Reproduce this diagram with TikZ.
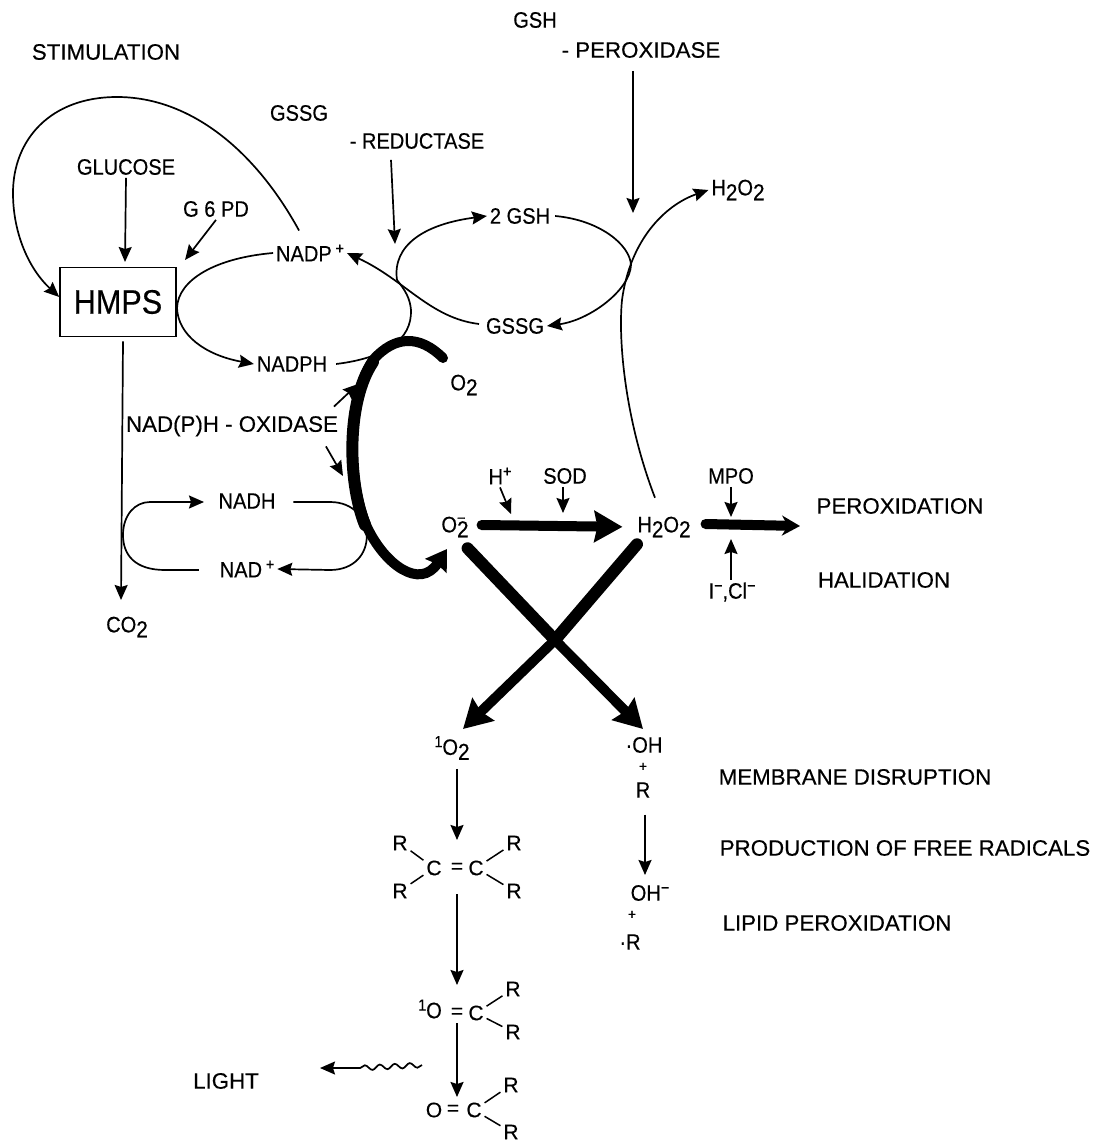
\documentclass[tikz,border=0pt]{standalone}
\usepackage{fontspec}
\setmainfont{Liberation Sans}[FakeBold=0.4]
\newfontfamily\narrowfont{Liberation Sans}[FakeStretch=0.9,FakeBold=0.4]
\usepackage{xcolor}
\usepackage{tikz}
\usetikzlibrary{arrows.meta,decorations.pathmorphing}
\newcommand{\lo}[1]{\raisebox{-.42ex}{\fontsize{23}{23}\selectfont #1}}
\newcommand{\hi}[1]{\raisebox{.65ex}{\fontsize{16}{16}\selectfont #1}}
\newcommand{\hilo}[2]{\rlap{\raisebox{.75ex}{\fontsize{16}{16}\selectfont #1}}\lo{#2}}

\begin{document}
\begin{tikzpicture}[
  x=1pt,y=-1pt,
  lbl/.style={inner sep=1pt,outer sep=2pt,font=\narrowfont\fontsize{22.3}{24}\selectfont},
  wbl/.style={inner sep=1pt,outer sep=2pt,font=\fontsize{22.3}{24}\selectfont},
  sbl/.style={inner sep=1pt,outer sep=2pt,font=\fontsize{21}{23}\selectfont},
  pls/.style={inner sep=0pt,font=\fontsize{14}{14}\selectfont},
  hmpsbox/.style={rectangle,draw,line width=1.6pt,minimum width=116pt,minimum height=69pt,inner sep=0pt,font=\narrowfont\fontsize{34}{36}\selectfont},
  arrow/.style={-{Stealth[length=15pt,width=13pt,inset=2pt]},line width=1.7pt},
  curve/.style={line width=1.7pt},
  bond/.style={line width=1.5pt},
  fat/.style={line width=12pt,line cap=round},
  fatarrow/.style={-{Stealth[length=28pt,width=31pt,inset=3pt]},line width=10pt,line cap=round}
]
  \useasboundingbox (0,0) rectangle (1102,1142);

  % Enzymes and inputs at the top
  \node[wbl] (stim) at (106,52) {STIMULATION};
  \node[lbl] (gsh) at (535,20) {GSH};
  \node[wbl] (perox) at (641,50) {- PEROXIDASE};
  \node[lbl] (gssgtop) at (299,113) {GSSG};
  \node[lbl] (reduct) at (417,141) {- REDUCTASE};
  \node[lbl] (glucose) at (126,167) {GLUCOSE};
  \node[lbl] (gpd) at (216,209) {G 6 PD};
  \node[lbl] (htop) at (738,190) {H\lo{2}O\lo{2}};

  % Upper cycles
  \node[hmpsbox] (hmps) at (118,302) {HMPS};
  \node[lbl] (nadp) at (310,253) {NADP\,\hi{+}};
  \node[lbl] (nadph) at (292,364) {NADPH};
  \node[lbl] (tgsh) at (520,216) {2 GSH};
  \node[lbl] (gssg) at (515,326) {GSSG};
  \node[lbl] (otwo) at (464,385) {O\lo{2}};

  % Lower left
  \node[wbl] (oxid) at (232,426) {NAD(P)H - OXIDASE};
  \node[lbl] (nadh) at (247,501) {NADH};
  \node[lbl] (nad) at (247,569) {NAD\,\hi{+}};
  \node[lbl] (co) at (127,627) {CO\lo{2}};

  % Middle row
  \node[lbl] (sup) at (455,527) {O\hilo{−}{2}};
  \node[lbl] (hplus) at (500,476) {H\hi{+}};
  \node[lbl] (sod) at (565,476) {SOD};
  \node[lbl] (hperox) at (664,527) {H\lo{2}O\lo{2}};
  \node[lbl] (mpo) at (731,476) {MPO};
  \node[lbl] (halo) at (732,592) {I\hi{−},Cl\hi{−}};
  \node[wbl] (perx) at (900,506) {PEROXIDATION};
  \node[wbl] (hali) at (884,580) {HALIDATION};

  % Products of the cross
  \node[lbl] (singlet) at (452,748) {\hi{1}O\lo{2}};
  \node[lbl] (oh) at (644,745) {·OH};
  \node[pls] (plusa) at (643,767) {+};
  \node[lbl] (roh) at (643,790) {R};
  \node[lbl] (ohm) at (650,893) {OH\hi{−}};
  \node[pls] (plusb) at (632,915) {+};
  \node[lbl] (rad) at (630,942) {·R};
  \node[wbl] (memb) at (855,777) {MEMBRANE DISRUPTION};
  \node[wbl] (prod) at (905,848) {PRODUCTION OF FREE RADICALS};
  \node[wbl] (lipid) at (837,923) {LIPID PEROXIDATION};

  % Alkene
  \node[sbl] (ra) at (400,843) {R};
  \node[sbl] (rb) at (400,891) {R};
  \node[sbl] (ca) at (434,868) {C};
  \node[sbl] (eqa) at (457,868) {=};
  \node[sbl] (cb) at (476,868) {C};
  \node[sbl] (rc) at (514,843) {R};
  \node[sbl] (rd) at (514,891) {R};

  % Excited carbonyl
  \node[lbl] (oa) at (430,1009) {\hi{1}O};
  \node[sbl] (eqb) at (457,1013) {=};
  \node[sbl] (cc) at (476,1013) {C};
  \node[sbl] (re) at (513,989) {R};
  \node[sbl] (rf) at (513,1032) {R};

  % Carbonyl
  \node[sbl] (ob) at (434,1110) {O};
  \node[sbl] (eqc) at (453,1110) {=};
  \node[sbl] (cd) at (474,1110) {C};
  \node[sbl] (rg) at (511,1085) {R};
  \node[sbl] (rh) at (511,1132) {R};
  \node[wbl] (light) at (226,1081) {LIGHT};

  \coordinate (jct) at (397,280);
  \coordinate (hmpe) at (177,308);
  \coordinate (wave) at (422,1065);
  \coordinate (wavemid) at (360,1068);
  \coordinate (wavetip) at (320,1068);
  \coordinate (cross) at (555,640);
  \coordinate (loopl) at (123,535);
  \coordinate (gshtip) at (633,213);
  \coordinate (redtip) at (395,244);
  \coordinate (gpdtip) at (185,260);
  \coordinate (cstart) at (443,358);
  \coordinate (ctip) at (447,549);
  \coordinate (stip) at (463,729);
  \coordinate (otip) at (643,729);

  % Straight arrows
  \draw[arrow] (glucose.south) -- (125,262);
  \draw[arrow] (gpd.south) -- (gpdtip);
  \draw[arrow] (reduct.south -| 391,0) ++(0,8) -- (redtip);
  \draw[arrow] (perox.south -| 633,0) ++(0,10) -- (gshtip);
  \draw[arrow] (hmps.south) ++(5,4) -- (121,600);
  \draw[arrow] (oxid.north east) ++(-7,-6) -- (358,384);
  \draw[arrow] (oxid.south east) ++(-15,7) -- (343,476);
  \draw[arrow] (hplus.south) -- (511,514);
  \draw[arrow] (sod.south) ++(-2,0) -- (563,513);
  \draw[arrow] (mpo.south) -- (731,517);
  \draw[arrow] (halo.north) ++(-1,0) -- (731,539);
  \draw[arrow] (singlet.south) ++(5,6) -- (457,840);
  \draw[arrow] (roh.south) ++(2,14) -- (645,875);
  \draw[arrow] (eqa.south) ++(0,18) -- (457,985);
  \draw[arrow] (eqb.south) ++(0,2) -- (457,1097);
  \draw[curve,decorate,decoration={snake,amplitude=2.5pt,segment length=15pt}] (wave) -- (wavemid);
  \draw[arrow] (wavemid) -- (wavetip);

  % Stimulation loop
  \draw[arrow] (nadp.north west) ++(26,-11) .. controls (255,150) and (190,97) .. (117,97) .. controls (50,97) and (13,140) .. (13,193) .. controls (13,235) and (30,270) .. (hmps.west |- 0,297);

  % NADP cycle
  \draw[curve] (nadp.west) .. controls (215,258) and (178,280) .. (hmpe);
  \draw[arrow] (hmpe) .. controls (178,335) and (205,355) .. (nadph.west);
  \draw[curve] (nadph.east) ++(6,0) .. controls (385,358) and (412,340) .. (411,310) .. controls (410,298) and (405,290) .. (jct);
  \draw[arrow] (gssg.west) ++(-4,-2) .. controls (430,318) and (405,280) .. (nadp.east);

  % GSH cycle
  \draw[arrow] (jct) .. controls (392,245) and (425,224) .. (tgsh.west);
  \draw[arrow] (tgsh.east) ++(2,0) .. controls (600,220) and (630,245) .. (631,265) .. controls (630,290) and (590,320) .. (gssg.east);
  \draw[arrow] (hperox.north) ++(-9,-16) .. controls (625,420) and (618,340) .. (622,300) .. controls (630,240) and (665,205) .. (htop.west);

  % NADH cycle
  \draw[arrow] (nad.west) ++(-18,1) -- (165,570) .. controls (135,570) and (123,555) .. (loopl) .. controls (123,515) and (135,502) .. (150,502) -- (204,502);
  \draw[curve] (nadh.east) ++(15,1) -- (330,502) .. controls (378,502) and (380,570) .. (330,570);
  \draw[arrow] (330,570) -- (nad.east);

  % Thick pathway
  \draw[fat] (373,362) .. controls (347,400) and (347,480) .. (365,525);
  \draw[fatarrow,-{Stealth[length=20pt,width=25pt,inset=2pt]}] (cstart) .. controls (420,335) and (395,335) .. (373,360) .. controls (347,400) and (347,480) .. (367,527) .. controls (385,565) and (420,590) .. (ctip);
  \draw[fatarrow,shorten >=12pt] (sup.east) ++(10,-2) -- (hperox.west);
  \draw[fatarrow,-{Stealth[length=18pt,width=20pt]}] (hperox.east) ++(12,-3) -- (800,526);
  \draw[fat] (sup.south east) ++(-4,8) -- (cross);
  \draw[fat] (hperox.south) ++(-27,4) -- (cross);
  \draw[fatarrow] (cross) -- (stip);
  \draw[fatarrow] (cross) -- (otip);

  % Bonds
  \draw[bond] (ra) -- (ca);
  \draw[bond] (rb) -- (ca);
  \draw[bond] (cb) -- (rc);
  \draw[bond] (cb) -- (rd);
  \draw[bond] (cc) -- (re);
  \draw[bond] (cc) -- (rf);
  \draw[bond] (cd) -- (rg);
  \draw[bond] (cd) -- (rh);
\end{tikzpicture}
\end{document}
